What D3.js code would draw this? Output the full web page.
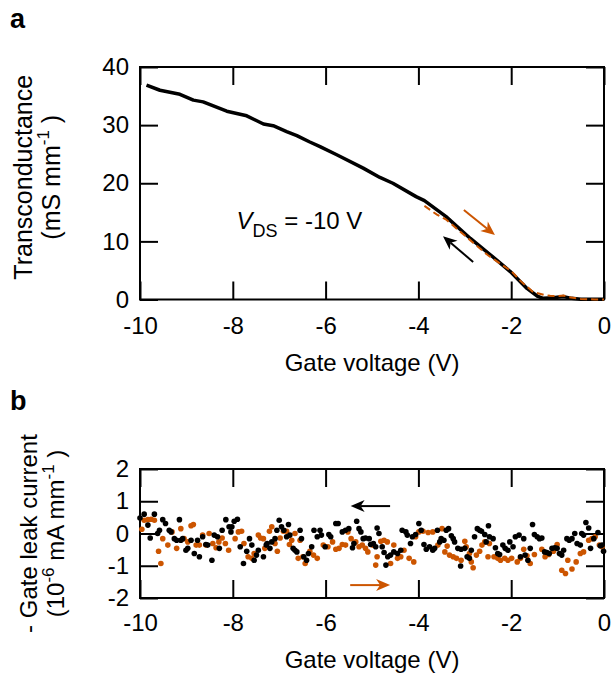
<!DOCTYPE html>
<html>
<head>
<meta charset="utf-8">
<script src="https://cdn.jsdelivr.net/npm/d3@7"></script>
<style>
  body { margin: 0; background: #fff; }
  svg text { font-family: "Liberation Sans", Arial, Helvetica, sans-serif; fill: #000; }
</style>
</head>
<body>
<div id="viz"></div>
<script>
// panel a : transconductance vs gate voltage
const gmDownX = [-9.86, -9.57, -9.14, -8.85, -8.64, -8.13, -7.70, -7.34, -7.13, -6.84, -6.62, -6.34, -6.12, -5.76, -5.19, -4.83, -4.55, -4.05, -3.87, -3.41, -2.88, -2.45, -2.02, -1.66, -1.44, -1.31, -1.10, -0.87, -0.70, -0.50, 0];
const gmDownY = [36.9, 36.0, 35.3, 34.3, 34.0, 32.4, 31.6, 30.2, 29.9, 28.9, 28.2, 27.1, 26.3, 24.9, 22.6, 21.0, 20.0, 17.7, 17.0, 14.3, 10.5, 7.7, 4.8, 1.9, 0.6, 0.2, 0.3, 0.5, 0.2, 0.05, 0.05];
const gmUpX = [-3.87, -3.60, -3.41, -3.00, -2.50, -2.00, -1.80, -1.53, -1.30, -1.16, -1.00, -0.87, -0.75, -0.50, -0.20, 0];
const gmUpY = [16.1, 14.6, 13.8, 11.0, 7.6, 4.9, 3.2, 1.3, 0.8, 0.65, 0.6, 0.7, 0.4, 0.1, 0.0, 0.0];

// panel b : gate leak current (black = sweep to -10 V, orange = sweep to 0 V)
const leakBlackX = [-10.00, -9.91, -9.83, -9.78, -9.69, -9.62, -9.58, -9.51, -9.45, -9.37, -9.33, -9.26, -9.21, -9.15, -9.12, -9.08, -9.01, -8.97, -8.90, -8.83, -8.76, -8.72, -8.65, -8.58, -8.54, -8.45, -8.40, -8.33, -8.29, -8.23, -8.15, -8.08, -8.04,
  -8.02, -7.97, -7.90, -7.84, -7.77, -7.70, -7.64, -7.59, -7.54, -7.49, -7.45, -7.34, -7.28, -7.26, -7.20, -7.16, -7.09, -7.05, -7.00, -6.95, -6.90, -6.84, -6.80, -6.77, -6.70, -6.66, -6.62, -6.55, -6.52, -6.47, -6.41, -6.37, -6.30, -6.25, -6.18, -6.12, -6.09, -6.01,
  -5.93, -5.89, -5.78, -5.73, -5.64, -5.57, -5.50, -5.42, -5.39, -5.33, -5.28, -5.24, -5.19, -5.14, -5.06, -5.03, -4.97, -4.92, -4.89, -4.85, -4.78, -4.74, -4.70, -4.66, -4.60, -4.53, -4.45, -4.38, -4.35, -4.27, -4.24, -4.17, -4.13, -4.06, -3.99,
  -3.94, -3.88, -3.83, -3.76, -3.69, -3.65, -3.59, -3.54, -3.51, -3.45, -3.40, -3.35, -3.29, -3.25, -3.22, -3.15, -3.09, -3.08, -3.00, -2.95, -2.90, -2.86, -2.79, -2.73, -2.68, -2.64, -2.57, -2.54, -2.49, -2.47, -2.39, -2.34, -2.29, -2.25, -2.18, -2.13, -2.07, -2.03, -1.96,
  -1.91, -1.83, -1.80, -1.73, -1.70, -1.64, -1.59, -1.54, -1.50, -1.44, -1.39, -1.34, -1.28, -1.23, -1.18, -1.12, -1.06, -1.01, -0.96, -0.91, -0.87, -0.80, -0.75, -0.69, -0.63, -0.58, -0.51, -0.48, -0.44, -0.39, -0.33, -0.29, -0.22, -0.13, -0.08, -0.04, -0.01];
const leakBlackY = [0.48, 0.60, 0.26, -0.14, 0.60, 0.00, 0.10, 0.43, 0.31, 0.10, 0.05, -0.16, -0.21, 0.43, -0.21, -0.16, -0.52, -0.46, -0.21, -0.62, -0.21, -0.72, -0.10, -0.34, -0.36, -0.83, -0.05, -0.10, -0.46, 0.10, 0.43, 0.21, 0.05,
  0.21, 0.38, 0.44, -0.41, -0.93, -0.55, -0.16, -0.36, -0.83, -0.67, -0.52, -0.72, -0.36, -0.31, -0.46, -0.26, -0.16, 0.10, 0.41, 0.21, 0.10, -0.10, 0.28, -0.05, -0.46, -0.52, -0.57, 0.10, -0.16, -0.72, -0.83, -0.62, -0.41, 0.10, -0.10, 0.10, -0.05, -0.41,
  -0.03, -0.10, 0.31, 0.31, 0.05, 0.10, 0.15, -0.44, -0.31, 0.38, 0.15, 0.05, -0.16, -0.14, -0.16, -0.34, -0.31, -0.41, 0.17, 0.00, -0.41, -0.59, -0.98, -0.72, -0.67, -0.57, -0.62, -0.52, 0.10, 0.05, -0.05, -0.31, -0.10, -0.03, 0.31,
  0.10, -0.34, -0.49, -0.41, -0.52, -0.46, 0.10, -0.26, -0.16, -0.21, 0.10, 0.15, -0.07, -0.16, -0.26, -0.46, -1.01, -0.49, -0.46, -0.72, -0.77, -0.52, -0.10, 0.15, 0.10, 0.07, -0.03, -0.26, 0.24, -0.10, -0.16, -0.44, -0.62, -0.65, -0.36, -0.46, -0.52, -0.26, -0.41,
  -0.10, -0.05, -0.72, -0.16, -0.67, -0.83, -0.46, 0.28, -0.03, -0.10, -0.16, -0.14, -0.57, -0.59, -0.62, -0.46, -0.44, -0.46, -0.62, -0.67, -0.52, -0.16, -0.21, -0.16, 0.00, -0.31, -0.36, 0.00, -0.05, 0.34, 0.17, -0.46, -0.16, 0.03, -0.38, -0.36, -0.55];
const leakOrangeX = [-9.96, -9.91, -9.83, -9.76, -9.69, -9.60, -9.55, -9.51, -9.40, -9.31, -9.21, -9.12, -9.05, -8.97, -8.90, -8.85, -8.79, -8.72, -8.65, -8.58, -8.51, -8.43, -8.36, -8.30, -8.23, -8.16, -8.09,
  -7.95, -7.88, -7.81, -7.76, -7.67, -7.59, -7.54, -7.45, -7.40, -7.34, -7.31, -7.21, -7.16, -7.09, -7.04, -6.98, -6.91, -6.84, -6.78, -6.73, -6.66, -6.59, -6.55, -6.49, -6.44, -6.34, -6.26, -6.18, -6.05,
  -5.95, -5.85, -5.78, -5.71, -5.64, -5.57, -5.52, -5.45, -5.35, -5.28, -5.21, -5.14, -5.09, -4.99, -4.92, -4.89, -4.81, -4.74, -4.67, -4.60, -4.53, -4.45, -4.38, -4.31, -4.20, -4.10, -4.06, -3.99,
  -3.90, -3.79, -3.69, -3.58, -3.49, -3.43, -3.38, -3.33, -3.25, -3.18, -3.08, -3.00, -2.97, -2.90, -2.86, -2.82, -2.75, -2.68, -2.63, -2.57, -2.50, -2.47, -2.37, -2.29, -2.23, -2.14, -2.07, -1.99,
  -1.87, -1.80, -1.73, -1.66, -1.59, -1.50, -1.34, -1.27, -1.19, -1.09, -1.01, -0.91, -0.83, -0.78, -0.69, -0.60, -0.51, -0.44, -0.33, -0.26, -0.19, -0.10, -0.04];
const leakOrangeY = [0.13, 0.41, 0.43, 0.44, 0.41, -0.55, -0.93, -0.16, -0.36, 0.05, -0.46, 0.15, -0.16, -0.26, 0.24, 0.28, -0.36, -0.36, -0.05, -0.36, 0.00, -0.31, -0.44, -0.26, -0.14, -0.31, -0.52,
  -0.16, 0.05, 0.07, -0.31, -0.72, -0.77, -0.62, -0.05, -0.14, -0.16, -0.46, 0.07, 0.21, -0.31, -0.55, -0.14, 0.07, 0.07, -0.34, -0.21, 0.00, -0.77, -0.21, -0.72, -0.93, -0.55, -0.67, -0.77, -0.36,
  -0.41, -0.26, -0.49, -0.46, -0.34, -0.36, 0.05, -0.16, -0.26, -0.41, -0.36, -0.46, -0.57, -0.36, -0.98, -0.72, -0.24, -0.21, -0.26, -0.93, -0.36, -0.77, -0.72, -0.52, -0.77, -0.88, -0.10, 0.05,
  0.07, 0.03, 0.05, -0.36, 0.15, -0.57, -0.39, -0.67, -0.72, -0.77, -0.83, -0.24, -0.41, -0.62, -0.88, -1.06, -0.67, -0.55, -0.36, -0.26, -0.72, -0.31, -0.72, -0.77, -0.83, -0.77, -0.83, -0.77,
  -0.88, -0.77, -0.49, -0.69, -0.93, -0.65, -0.49, -0.72, -0.65, -0.55, -0.34, -1.14, -1.24, -0.83, -1.10, -0.88, -0.62, -0.57, -0.21, -0.16, -0.10, -0.36, -0.41];

const xTicks = [-10, -8, -6, -4, -2, 0];
const yTicksA = [0, 10, 20, 30, 40];
const yTicksB = [-2, -1, 0, 1, 2];

const W = 613, H = 676;
const orange = "#cc5500";
const fontSize = 24;

const svg = d3.select("#viz").append("svg")
    .attr("width", W)
    .attr("height", H);

const x = d3.scaleLinear().domain([-10, 0]).range([140, 604]);
const yA = d3.scaleLinear().domain([0, 40]).range([299.5, 67]);
const yB = d3.scaleLinear().domain([-2, 2]).range([598, 469]);

// draws the framed box with inward ticks on all four sides
function frame(y, yTicks, xPad, yPad) {
    const [y0, y1] = y.range();
    const g = svg.append("g");
    g.append("g").attr("transform", `translate(0,${y0})`)
        .call(d3.axisBottom(x).tickValues(xTicks).tickSizeInner(-18).tickSizeOuter(0).tickPadding(xPad).tickFormat(d3.format("d")));
    g.append("g").attr("transform", `translate(0,${y1})`)
        .call(d3.axisTop(x).tickValues(xTicks).tickSizeInner(-18).tickSizeOuter(0).tickFormat(""));
    g.append("g").attr("transform", `translate(${x(-10)},0)`)
        .call(d3.axisLeft(y).tickValues(yTicks).tickSizeInner(-18).tickSizeOuter(0).tickPadding(yPad).tickFormat(d3.format("d")));
    g.append("g").attr("transform", `translate(${x(0)},0)`)
        .call(d3.axisRight(y).tickValues(yTicks).tickSizeInner(-18).tickSizeOuter(0).tickFormat(""));
    g.selectAll(".domain").remove();
    g.selectAll(".tick line").attr("stroke", "#000").attr("stroke-width", 2);
    g.selectAll(".tick text").attr("font-size", fontSize).attr("fill", "#000")
        .attr("font-family", "'Liberation Sans', Arial, sans-serif")
        .text(function() { return this.textContent.replace("−", "-"); });
    g.append("rect")
        .attr("x", x(-10)).attr("y", y1)
        .attr("width", x(0) - x(-10)).attr("height", y0 - y1)
        .attr("fill", "none").attr("stroke", "#000").attr("stroke-width", 2);
    return g;
}

// filled, notched arrow head (x1,y1) -> (x2,y2) in pixels
function arrow(x1, y1, x2, y2, color) {
    const ang = Math.atan2(y2 - y1, x2 - x1);
    const L = 14, Wd = 6, notch = 10;
    const ux = Math.cos(ang), uy = Math.sin(ang);
    const px = -uy, py = ux;
    svg.append("line")
        .attr("x1", x1).attr("y1", y1)
        .attr("x2", x2 - ux * notch).attr("y2", y2 - uy * notch)
        .attr("stroke", color).attr("stroke-width", 2);
    const pts = [
        [x2, y2],
        [x2 - ux * L + px * Wd, y2 - uy * L + py * Wd],
        [x2 - ux * notch, y2 - uy * notch],
        [x2 - ux * L - px * Wd, y2 - uy * L - py * Wd]
    ];
    svg.append("path").attr("d", "M" + pts.join("L") + "Z").attr("fill", color);
}

// ---------- panel a ----------
frame(yA, yTicksA, 17, 11);

const lineA = d3.line().x(d => x(d[0])).y(d => yA(d[1]));
svg.append("path")
    .datum(d3.zip(gmDownX, gmDownY))
    .attr("d", lineA)
    .attr("fill", "none").attr("stroke", "#000").attr("stroke-width", 3.5)
    .attr("stroke-linejoin", "round");
svg.append("path")
    .datum(d3.zip(gmUpX, gmUpY))
    .attr("d", lineA)
    .attr("fill", "none").attr("stroke", orange).attr("stroke-width", 2)
    .attr("stroke-dasharray", "7,4");

arrow(x(-3.02), yA(15.4), x(-2.35), yA(11.1), orange);
arrow(x(-2.82), yA(6.45), x(-3.47), yA(10.9), "#000");

const vds = svg.append("text").attr("x", x(-7.92)).attr("y", yA(12.1)).attr("font-size", fontSize);
vds.append("tspan").attr("font-style", "italic").text("V");
vds.append("tspan").attr("font-size", 18).attr("dy", 8).text("DS");
vds.append("tspan").attr("dy", -8).text(" = -10 V");

svg.append("text").attr("x", 372).attr("y", 371).attr("text-anchor", "middle")
    .attr("font-size", fontSize).text("Gate voltage (V)");

svg.append("text").attr("transform", `translate(32,${yA(20) - 6}) rotate(-90)`)
    .attr("text-anchor", "middle").attr("font-size", 25).text("Transconductance");
const ylabA2 = svg.append("text").attr("transform", `translate(60,${yA(20) - 6}) rotate(-90)`)
    .attr("text-anchor", "middle").attr("font-size", 25);
ylabA2.append("tspan").text("(mS mm");
ylabA2.append("tspan").attr("font-size", 17).attr("dy", -11).text("-1");
ylabA2.append("tspan").attr("dy", 11).text(" )");

svg.append("text").attr("x", 10).attr("y", 28).attr("font-size", 27).attr("font-weight", "bold").text("a");

// ---------- panel b ----------
frame(yB, yTicksB, 16, 11);

svg.append("g").selectAll("circle")
    .data(d3.zip(leakOrangeX, leakOrangeY))
    .join("circle")
    .attr("cx", d => x(d[0])).attr("cy", d => yB(d[1])).attr("r", 2.8)
    .attr("fill", orange);
svg.append("g").selectAll("circle")
    .data(d3.zip(leakBlackX, leakBlackY))
    .join("circle")
    .attr("cx", d => x(d[0])).attr("cy", d => yB(d[1])).attr("r", 2.8)
    .attr("fill", "#000");

arrow(x(-4.61), yB(0.85), x(-5.46), yB(0.85), "#000");
arrow(x(-5.47), yB(-1.6), x(-4.61), yB(-1.6), orange);

svg.append("text").attr("x", 372).attr("y", 668).attr("text-anchor", "middle")
    .attr("font-size", fontSize).text("Gate voltage (V)");

svg.append("text").attr("transform", `translate(37,${yB(0)}) rotate(-90)`)
    .attr("text-anchor", "middle").attr("font-size", fontSize).text("- Gate leak current");
const ylabB2 = svg.append("text").attr("transform", `translate(64,${yB(0)}) rotate(-90)`)
    .attr("text-anchor", "middle").attr("font-size", fontSize);
ylabB2.append("tspan").text("(10");
ylabB2.append("tspan").attr("font-size", 17).attr("dy", -10).text("-6");
ylabB2.append("tspan").attr("dy", 10).text(" mA mm");
ylabB2.append("tspan").attr("font-size", 17).attr("dy", -10).text("-1");
ylabB2.append("tspan").attr("dy", 10).text(" )");

svg.append("text").attr("x", 10).attr("y", 410).attr("font-size", 27).attr("font-weight", "bold").text("b");
</script>
</body>
</html>
